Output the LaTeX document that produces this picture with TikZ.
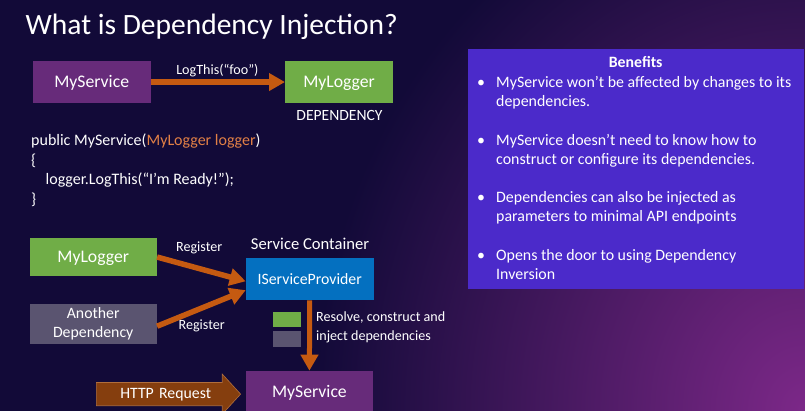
\documentclass[tikz,border=0pt]{standalone}
\usepackage{fontspec}
\setmainfont{Carlito}
\usetikzlibrary{arrows.meta,calc,shapes.arrows}

\definecolor{bgnavy}{RGB}{18,10,56}
\definecolor{bgplum}{RGB}{124,40,136}
\definecolor{svcpurple}{RGB}{103,43,122}
\definecolor{loggreen}{RGB}{112,173,71}
\definecolor{provblue}{RGB}{4,112,192}
\definecolor{depgrey}{RGB}{90,84,112}
\definecolor{flow}{RGB}{197,90,17}
\definecolor{reqbrown}{RGB}{133,62,14}
\definecolor{reqedge}{RGB}{176,110,60}
\definecolor{panel}{RGB}{75,42,202}
\definecolor{codehl}{RGB}{226,128,70}

\newcommand\setsz[2]{\fontsize{#1pt}{#2pt}\selectfont}

\tikzset{
  box/.style={rectangle, inner sep=0pt, anchor=north west, text=white,
    text height=11.6pt, text depth=0pt},
  bigtext/.style={font=\setsz{17.7}{21}},
  midtext/.style={font=\setsz{15.8}{19}},
  flowarrow/.style={draw=flow, line width=5.5pt,
    -{Triangle[length=16pt,width=17pt]}},
  lbl/.style={text=white, inner sep=0pt, anchor=base, font=\setsz{14.1}{17}},
  code/.style={text=white, inner sep=0pt, anchor=base west, font=\setsz{16}{19.5}},
  bline/.style={text=white, inner sep=0pt, anchor=base west, font=\setsz{15.9}{19.2}},
  bdot/.style={text=white, inner sep=0pt, anchor=base, font=\setsz{15.9}{19.2}},
  httparrow/.style={single arrow, fill=reqbrown, draw=reqedge, line width=0.6pt,
    text=white, font=\setsz{15.8}{19}, text width=133pt, align=center,
    inner xsep=0pt, inner ysep=7.3pt, text height=8pt, text depth=0pt,
    single arrow head extend=8.4pt, single arrow tip angle=95},
}

\begin{document}
\begin{tikzpicture}[x=1pt,y=-1pt]
\useasboundingbox (0,0) rectangle (805,411);
\begin{scope}
\clip (0,0) rectangle (805,411);
% backdrop: dark navy, warming to plum towards the lower right
\fill[bgnavy] (0,0) rectangle (805,411);
\shade[inner color=bgplum, outer color=bgnavy] (805,411)
  ellipse[x radius=490pt, y radius=560pt];

% title
\node[text=white, inner sep=0pt, anchor=base west, font=\setsz{29.5}{34}]
  (title) at (25.5,35) {What is Dependency Injection?};

% direct call from the service to its dependency
\node[box, bigtext, fill=svcpurple, minimum width=118.4pt, minimum height=41.7pt]
  (ms1) at (32.3,61) {MyService};
\node[box, bigtext, fill=loggreen, minimum width=107.7pt, minimum height=41.7pt]
  (ml1) at (285,61) {MyLogger};
\draw[flowarrow] (ms1.east) -- (ms1.east -| ml1.west);
\node[lbl] (call) at (217.4,75) {LogThis(“foo”)};
\node[lbl, font=\setsz{15.6}{18}] (deplbl) at (339.5,121) {DEPENDENCY};

% constructor injection snippet
\node[code] (c1) at (31,146) {public MyService(\textcolor{codehl}{MyLogger logger})};
\node[code] (c2) at (31,165.5) {\{};
\node[code] (c3) at (45.5,185) {logger.LogThis(“I’m Ready!”);};
\node[code] (c4) at (31,204.5) {\}};

% registration with the service container
\node[box, bigtext, fill=loggreen, minimum width=127.4pt, minimum height=38.7pt]
  (ml2) at (29.3,237.5) {MyLogger};
\node[box, midtext, fill=depgrey, minimum width=127.4pt, minimum height=39.4pt,
  align=center, text height=, text depth=]
  (dep) at (29.3,304.3) {Another\\Dependency};
\node[box, midtext, fill=provblue, minimum width=127.6pt, minimum height=42.6pt]
  (isp) at (245.7,257.4) {IServiceProvider};
\node[lbl, font=\setsz{16.6}{19}] (sc) at (310,250) {Service Container};

\draw[flowarrow] (ml2.east) -- ($(isp.west)+(0,2.4)$);
\draw[flowarrow] ($(dep.east)+(0,2)$) -- ($(isp.west)+(0,11.3)$);
\node[lbl] (reg1) at (199.2,251.8) {Register};
\node[lbl] (reg2) at (201.7,329) {Register};

% resolution of the service
\node[box, bigtext, fill=svcpurple, minimum width=127pt, minimum height=42.4pt]
  (ms2) at (245.7,370.7) {MyService};
\draw[flowarrow, line width=5pt] (isp.south) -- (ms2.north);
\node[rectangle, fill=loggreen, inner sep=0pt, anchor=north west,
  minimum width=28.6pt, minimum height=15pt] (sqa) at (272.5,311.7) {};
\node[rectangle, fill=depgrey, inner sep=0pt, anchor=north west,
  minimum width=28.6pt, minimum height=15.6pt] (sqb) at (272.5,331) {};
\node[lbl, anchor=base west] (res1) at (316,321.7) {Resolve, construct and};
\node[lbl, anchor=base west] (res2) at (316,340) {inject dependencies};

\node[httparrow, anchor=tip] (http) at ($(ms2.west)+(-4.7,2)$) {\hspace*{5pt}HTTP Request};

% benefits panel
\node[rectangle, fill=panel, inner sep=0pt, anchor=north west,
  minimum width=336pt, minimum height=240pt] (panel) at (468,49) {};
\node[text=white, inner sep=0pt, anchor=base, font=\bfseries\setsz{15.8}{19}]
  (bhead) at (635.7,67.3) {Benefits};

\node[bdot] (d1) at (481,87.5) {•};
\node[bline] (b1) at (496,87.5) {MyService won’t be affected by changes to its};
\node[bline] (b2) at (496,106.7) {dependencies.};
\node[bdot] (d2) at (481,145.1) {•};
\node[bline] (b3) at (496,145.1) {MyService doesn’t need to know how to};
\node[bline] (b4) at (496,164.3) {construct or configure its dependencies.};
\node[bdot] (d3) at (481,202.7) {•};
\node[bline] (b5) at (496,202.7) {Dependencies can also be injected as};
\node[bline] (b6) at (496,221.9) {parameters to minimal API endpoints};
\node[bdot] (d4) at (481,260.3) {•};
\node[bline] (b7) at (496,260.3) {Opens the door to using Dependency};
\node[bline] (b8) at (496,279.5) {Inversion};
\end{scope}
\end{tikzpicture}
\end{document}
